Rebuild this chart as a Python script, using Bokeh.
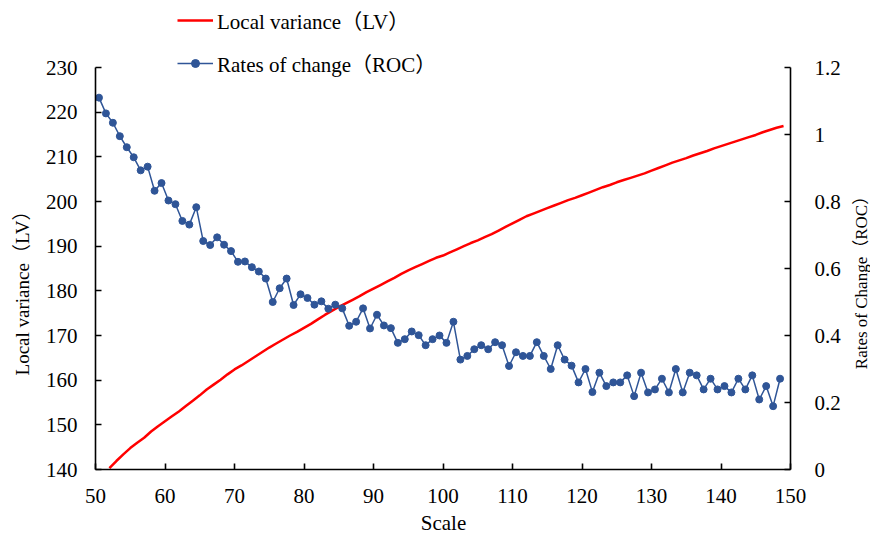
import math

from bokeh.plotting import figure
from bokeh.models import (Range1d, LinearAxis, FixedTicker, Legend, LegendItem,
                          CustomJSTickFormatter, Label)
from bokeh.embed import file_html
from bokeh.resources import INLINE

# Local variance (left axis) along the analysis scale, from where it enters 140
lv_scale = list(range(52, 150))

lv = [
    140.3, 141.9, 143.4, 144.8, 146.0, 147.1, 148.5, 149.7,
    150.8, 151.9, 153.0, 154.2, 155.4, 156.6, 157.9, 159.0, 160.1, 161.3,
    162.4, 163.3, 164.3, 165.3, 166.3, 167.3, 168.2, 169.1, 170.0, 170.8,
    171.7, 172.6, 173.6, 174.6, 175.5, 176.4, 177.2, 178.0, 178.8, 179.7,
    180.5, 181.3, 182.1, 182.9, 183.8, 184.6, 185.3, 186.0, 186.7, 187.4,
    187.9, 188.6, 189.3, 190.0, 190.7, 191.3, 192.0, 192.7, 193.5, 194.3,
    195.1, 195.9, 196.7, 197.3, 197.9, 198.5, 199.1, 199.7, 200.3, 200.8,
    201.4, 202.0, 202.6, 203.2, 203.7, 204.3, 204.8, 205.3, 205.8, 206.3,
    206.9, 207.5, 208.1, 208.7, 209.2, 209.7, 210.3, 210.8, 211.3, 211.9,
    212.4, 212.9, 213.4, 213.9, 214.4, 214.9, 215.5, 216.0, 216.5, 216.9,
]

# Rate of change between successive scales, placed at the interval midpoints
roc_scale = [
    50.5, 51.5, 52.5, 53.5, 54.5, 55.5, 56.5, 57.5, 58.5, 59.5,
    60.5, 61.5, 62.5, 63.5, 64.5, 65.5, 66.5, 67.5, 68.5, 69.5,
    70.5, 71.5, 72.5, 73.5, 74.5, 75.5, 76.5, 77.5, 78.5, 79.5,
    80.5, 81.5, 82.5, 83.5, 84.5, 85.5, 86.5, 87.5, 88.5, 89.5,
    90.5, 91.5, 92.5, 93.5, 94.5, 95.5, 96.5, 97.5, 98.5, 99.5,
    100.5, 101.5, 102.5, 103.5, 104.5, 105.5, 106.5, 107.5, 108.5, 109.5,
    110.5, 111.5, 112.5, 113.5, 114.5, 115.5, 116.5, 117.5, 118.5, 119.5,
    120.5, 121.5, 122.5, 123.5, 124.5, 125.5, 126.5, 127.5, 128.5, 129.5,
    130.5, 131.5, 132.5, 133.5, 134.5, 135.5, 136.5, 137.5, 138.5, 139.5,
    140.5, 141.5, 142.5, 143.5, 144.5, 145.5, 146.5, 147.5, 148.5,
]

roc = [
    1.110, 1.063, 1.035, 0.995, 0.962, 0.932, 0.893, 0.904, 0.832, 0.855,
    0.803, 0.792, 0.742, 0.731, 0.783, 0.682, 0.670, 0.693, 0.671, 0.652,
    0.620, 0.621, 0.604, 0.591, 0.570, 0.500, 0.541, 0.570, 0.491, 0.523,
    0.512, 0.492, 0.502, 0.480, 0.492, 0.481, 0.429, 0.441, 0.481, 0.421,
    0.462, 0.430, 0.422, 0.378, 0.389, 0.412, 0.401, 0.371, 0.389, 0.400,
    0.378, 0.441, 0.328, 0.339, 0.359, 0.371, 0.359, 0.380, 0.371, 0.309,
    0.350, 0.339, 0.339, 0.380, 0.339, 0.300, 0.371, 0.328, 0.310, 0.260,
    0.300, 0.231, 0.289, 0.249, 0.260, 0.260, 0.281, 0.219, 0.289, 0.230,
    0.239, 0.271, 0.230, 0.300, 0.230, 0.289, 0.281, 0.239, 0.271, 0.239,
    0.249, 0.230, 0.271, 0.239, 0.281, 0.209, 0.249, 0.189, 0.271,
]

x_ticks = [50, 60, 70, 80, 90, 100, 110, 120, 130, 140, 150]
lv_ticks = [140, 150, 160, 170, 180, 190, 200, 210, 220, 230]
roc_ticks = [0, 0.2, 0.4, 0.6, 0.8, 1, 1.2]

FONT = "'Liberation Serif', 'Noto Sans CJK SC'"
RED = "#FF0000"
BLUE = "#2F5597"

# Axis extents (the axis lines are bounded to these) and the wider drawing
# ranges, so the axes, their titles and the legend all share one area.
X_MIN, X_MAX = 50, 150
LV_MIN, LV_MAX = 140, 230
ROC_MIN, ROC_MAX = 0, 1.2
W, H = 870, 534
LEFT, RIGHT, TOP, BOTTOM = 95, 790, 67, 469          # axis corners, px

x_per_px = (X_MAX - X_MIN) / (RIGHT - LEFT)
lv_per_px = (LV_MAX - LV_MIN) / (BOTTOM - TOP)
roc_per_px = (ROC_MAX - ROC_MIN) / (BOTTOM - TOP)

p = figure(width=W, height=H, output_backend="svg", toolbar_location=None,
           x_range=Range1d(X_MIN - LEFT * x_per_px, X_MAX + (W - RIGHT) * x_per_px),
           y_range=Range1d(LV_MIN - (H - BOTTOM) * lv_per_px, LV_MAX + TOP * lv_per_px),
           x_axis_type=None, y_axis_type=None, min_border=0)
p.extra_y_ranges = {"roc": Range1d(ROC_MIN - (H - BOTTOM) * roc_per_px,
                                   ROC_MAX + TOP * roc_per_px)}
p.outline_line_color = None
p.background_fill_color = "white"
p.border_fill_color = "white"

lv_line = p.line(lv_scale, lv, line_color=RED, line_width=2.5)
roc_line = p.line(roc_scale, roc, line_color=BLUE, line_width=1.5, y_range_name="roc")
roc_pts = p.scatter(roc_scale, roc, size=7, fill_color=BLUE, line_color=BLUE,
                    y_range_name="roc")

xa = LinearAxis(ticker=FixedTicker(ticks=x_ticks), bounds=(X_MIN, X_MAX),
                fixed_location=LV_MIN)
ya = LinearAxis(ticker=FixedTicker(ticks=lv_ticks), bounds=(LV_MIN, LV_MAX),
                fixed_location=X_MIN)
ra = LinearAxis(ticker=FixedTicker(ticks=roc_ticks), bounds=(ROC_MIN, ROC_MAX),
                fixed_location=X_MAX, y_range_name="roc",
                formatter=CustomJSTickFormatter(
                    code="return String(Math.round(tick * 10) / 10);"))
p.add_layout(xa, "below")
p.add_layout(ya, "left")
p.add_layout(ra, "right")

for ax in (xa, ya, ra):
    ax.axis_line_color = "black"
    ax.axis_line_width = 1.6
    ax.major_tick_line_color = "black"
    ax.major_tick_line_width = 1.6
    ax.major_tick_in = 6
    ax.major_tick_out = 0
    ax.minor_tick_line_color = None
    ax.major_label_text_font = FONT
    ax.major_label_text_font_size = "21px"
    ax.major_label_text_color = "black"

xa.major_label_standoff = 19
ya.major_label_standoff = 18
ra.major_label_standoff = 24

# Axis titles
title_style = dict(x_units="screen", y_units="screen", text_align="center",
                   text_baseline="middle", text_font=FONT, text_color="black")
p.add_layout(Label(x=443, y=H - 522, text="Scale", text_font_size="21px",
                   **title_style))
p.add_layout(Label(x=22, y=H - 288, angle=math.pi / 2, text="Local variance（LV）",
                   text_font_size="19px", **title_style))
p.add_layout(Label(x=861, y=H - 278, angle=math.pi / 2,
                   text="Rates of Change（ROC）", text_font_size="17px",
                   **title_style))

legend = Legend(
    items=[
        LegendItem(label="Local variance（LV）", renderers=[lv_line]),
        LegendItem(label="Rates of change（ROC）", renderers=[roc_line, roc_pts]),
    ],
    location=(177, 456), orientation="vertical",
    border_line_color=None, background_fill_alpha=0,
    padding=0, margin=0, spacing=13,
    glyph_width=36, glyph_height=20, label_height=20, label_standoff=4,
    label_text_font=FONT, label_text_font_size="21px", label_text_color="black",
)
p.add_layout(legend)

open("out.html", "w").write(file_html(p, INLINE))
